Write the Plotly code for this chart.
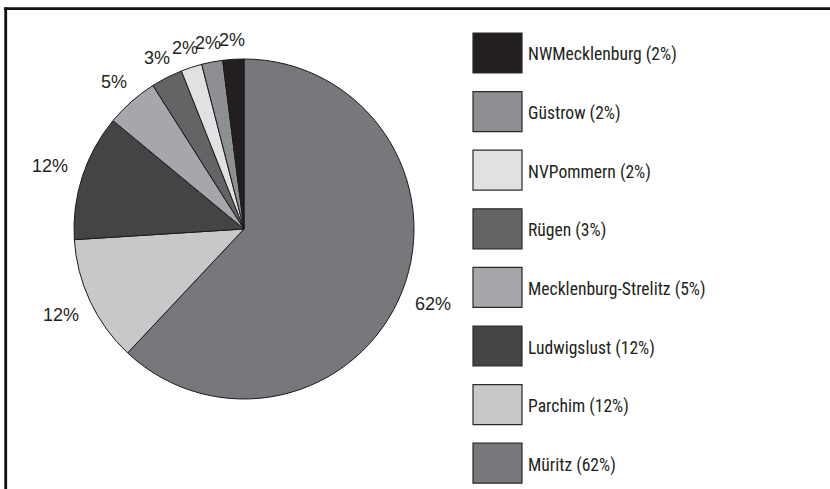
import math
import plotly.graph_objects as go

# Data (clockwise from 12 o'clock)
districts = ["Müritz", "Parchim", "Ludwigslust", "Mecklenburg-Strelitz",
             "Rügen", "NVPommern", "Güstrow", "NWMecklenburg"]
shares = [62, 12, 12, 5, 3, 2, 2, 2]
colors = ["#77787b", "#c7c8c9", "#434446", "#a6a7aa",
          "#636466", "#e0e1e2", "#8e8f92", "#231f20"]

W, H = 830, 489
LABEL_FONT = "Liberation Sans, Arial, Helvetica, sans-serif"
LEGEND_FONT = "Roboto Condensed, Liberation Sans Narrow, Arial Narrow, sans-serif"
INK = "#231f20"

# pie geometry (pixels)
CX, CY, R = 244, 229, 170

fig = go.Figure()
fig.add_trace(go.Pie(
    labels=districts, values=shares, sort=False, direction="clockwise",
    rotation=0, textinfo="none", automargin=False,
    marker=dict(colors=colors, line=dict(color="#1a1a1a", width=1)),
    domain=dict(x=[(CX - R) / W, (CX + R) / W], y=[1 - (CY + R) / H, 1 - (CY - R) / H]),
    showlegend=False, hoverinfo="label+percent",
))

annotations = []
shapes = []

# outside percentage labels at each slice's mid-angle
total = sum(shares)
cum = 0
for val in shares:
    mid = (cum + val / 2) / total * 2 * math.pi
    cum += val
    dx, dy = math.sin(mid), -math.cos(mid)
    rl = 189 + 16 * dx * dx
    px, py = CX + rl * dx, CY + rl * dy
    annotations.append(dict(xref="paper", yref="paper", x=px / W, y=1 - py / H,
                            xanchor="center", yanchor="middle", showarrow=False,
                            text=f"{val}%", font=dict(family=LABEL_FONT, size=18, color=INK)))

# legend built from the data, in reverse order
top0, step, sw_h = 33, 58.6, 40
for i, (name, val, col) in enumerate(zip(districts[::-1], shares[::-1], colors[::-1])):
    y0 = top0 + i * step
    shapes.append(dict(type="rect", xref="paper", yref="paper",
                       x0=473 / W, x1=522 / W, y0=1 - (y0 + sw_h) / H, y1=1 - y0 / H,
                       fillcolor=col, line=dict(color="#2a2a2a", width=1.2)))
    annotations.append(dict(xref="paper", yref="paper", x=526 / W, y=1 - (y0 + sw_h / 2 + 2) / H,
                            xanchor="left", yanchor="middle", showarrow=False,
                            text=f"{name} ({val}%)",
                            font=dict(family=LEGEND_FONT, size=17.6, color=INK)))

# frame (top and left edges)
shapes.append(dict(type="line", xref="paper", yref="paper", x0=4 / W, x1=1, y0=1 - 8.7 / H, y1=1 - 8.7 / H,
                   line=dict(color="#111", width=2.8)))
shapes.append(dict(type="line", xref="paper", yref="paper", x0=5.7 / W, x1=5.7 / W, y0=0, y1=1 - 7.5 / H,
                   line=dict(color="#111", width=2.8)))

fig.update_layout(width=W, height=H, margin=dict(l=0, r=0, t=0, b=0, autoexpand=False),
                  paper_bgcolor="white", plot_bgcolor="white",
                  shapes=shapes, annotations=annotations)
fig.write_html("out.html", config={"displayModeBar": False},
               post_script="document.body.style.margin='0';")
